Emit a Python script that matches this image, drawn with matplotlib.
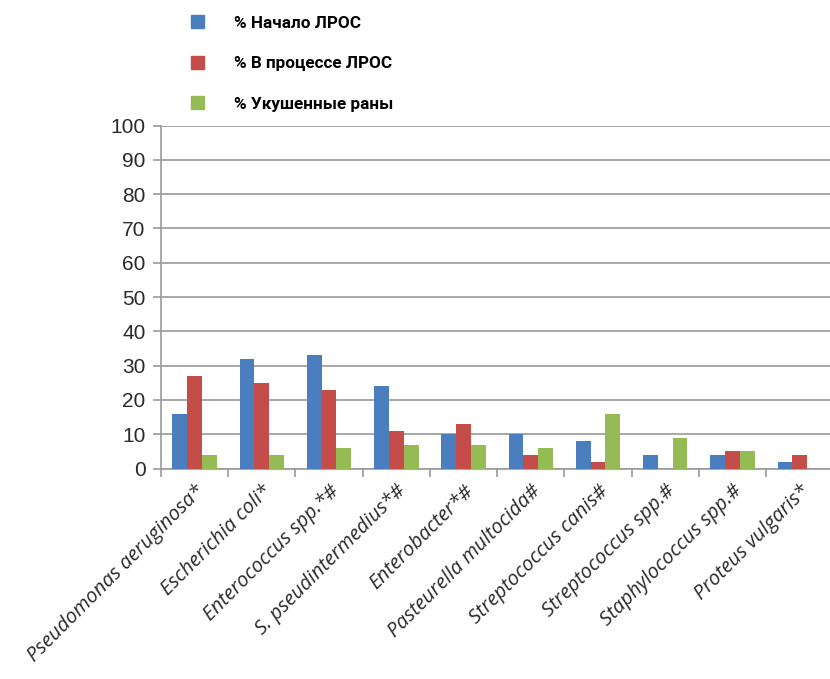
import numpy as np
import matplotlib.pyplot as plt
from matplotlib.patches import Patch

# возбудители и доли (%) по группам
bacteria = ['Pseudomonas aeruginosa*', 'Escherichia coli*', 'Enterococcus spp.*#',
            'S. pseudintermedius*#', 'Enterobacter*#', 'Pasteurella multocida#',
            'Streptococcus canis#', 'Streptococcus spp.#', 'Staphylococcus spp.#',
            'Proteus vulgaris*']
start = [16, 32, 33, 24, 10, 10, 8, 4, 4, 2]
process = [27, 25, 23, 11, 13, 4, 2, 0, 5, 4]
bites = [4, 4, 6, 7, 7, 6, 16, 9, 5, 0]
labels = ['% Начало ЛРОС', '% В процессе ЛРОС', '% Укушенные раны']
colors = ['#4a7ebf', '#c44d4a', '#95bb55']

fig = plt.figure(figsize=(8.3, 6.79), dpi=100)
ax = fig.add_axes([0.194, 0.31, 0.81, 0.505])

x = np.arange(len(bacteria))
w = 0.22
for i, vals in enumerate([start, process, bites]):
    ax.bar(x + (i - 1) * w, vals, w, color=colors[i], zorder=3)

ax.set_xlim(-0.5, len(bacteria) - 0.5)
ax.set_ylim(0, 100)
ax.set_yticks(range(0, 101, 10))
ax.yaxis.grid(True, color='#9a9a9a', linewidth=1.2, zorder=0)
ax.tick_params(axis='y', labelsize=15, length=6, color='#9a9a9a', width=1.2,
               labelcolor='#2a2a2a', pad=5, labelfontfamily='Liberation Sans')

ax.set_xticks(x)
ax.set_xticklabels(bacteria, rotation=45, ha='right', rotation_mode='anchor',
                   fontsize=14.5, style='italic', family='Open Sans', color='#2a2a2a')
ax.tick_params(axis='x', length=0, pad=9)
ax.set_xticks(np.arange(-0.5, len(bacteria), 1), minor=True)
ax.tick_params(axis='x', which='minor', length=6, color='#9a9a9a', width=1.2)

for s in ['top', 'right']:
    ax.spines[s].set_visible(False)
for s in ['left', 'bottom']:
    ax.spines[s].set_color('#9a9a9a')
    ax.spines[s].set_linewidth(1.2)

handles = [Patch(color=c) for c in colors]
fig.legend(handles, labels, loc='upper left', bbox_to_anchor=(0.211, 1.0),
           frameon=False, handlelength=0.8, handleheight=0.8, labelspacing=1.46,
           handletextpad=1.75,
           prop={'family': 'Roboto', 'weight': 'bold', 'size': 12.3})

fig.savefig('out.png')
